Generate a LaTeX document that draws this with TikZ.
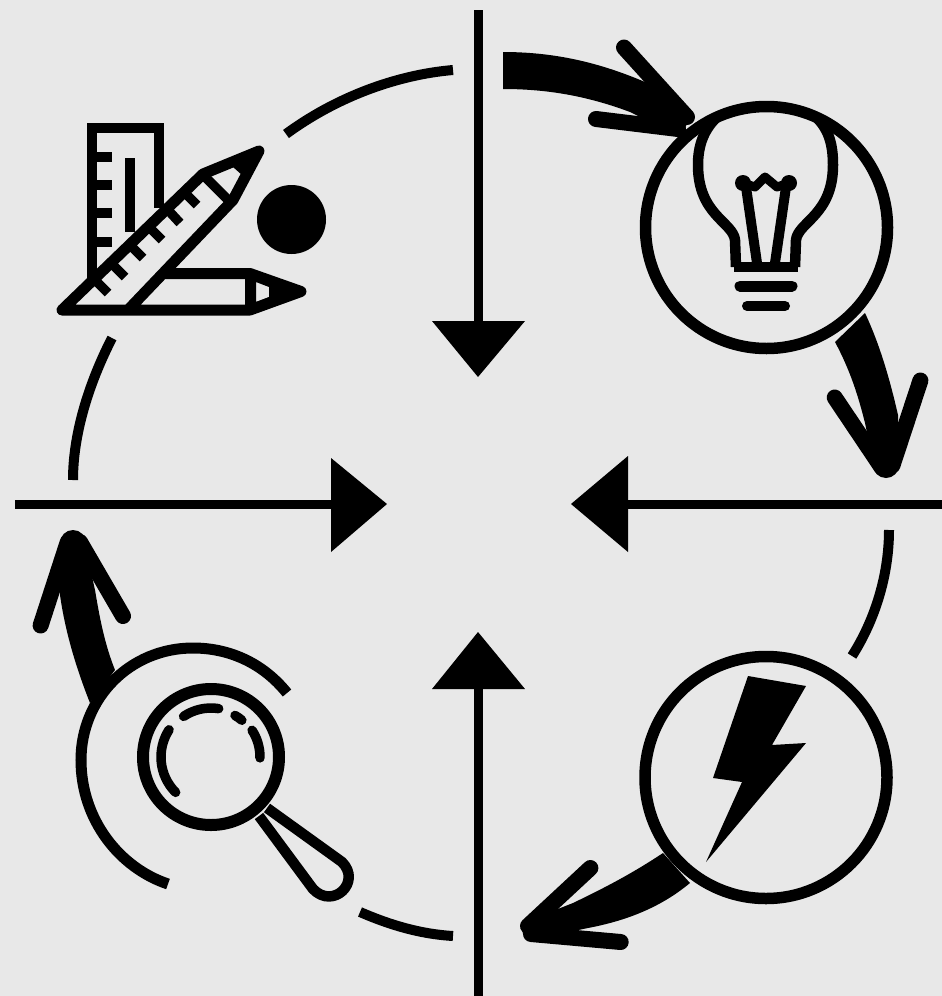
\documentclass[tikz,border=0pt]{standalone}
\definecolor{paper}{HTML}{E8E8E8}
\tikzset{
  axisline/.style={line width=9pt},
  headtri/.style={fill=black},
  ring/.style={line width=10pt},
  ink/.style={line width=11pt,line join=round},
  inkr/.style={line width=11pt,line join=round,line cap=round},
  barb/.style={line width=16pt,line cap=round},
  body/.style={fill=black},
  tick/.style={line width=9.5pt},
  glint/.style={line width=9.5pt,line cap=round},
  badge/.style={circle,draw=black,line width=11.5pt,minimum size=242pt,inner sep=0pt,outer sep=0pt}
}
\begin{document}
\begin{tikzpicture}[x=1pt,y=-1pt]
\useasboundingbox (0,0) rectangle (942,996);
\fill[paper] (0,0) rectangle (942,996);
% axis arrows
\coordinate (tops) at (478,10); \coordinate (tope) at (478,330);
\coordinate (lefts) at (15,504); \coordinate (lefte) at (340,504);
\coordinate (rights) at (942,504); \coordinate (righte) at (620,504);
\coordinate (bots) at (478,996); \coordinate (bote) at (478,680);
\draw[axisline] (tops) -- (tope);
\draw[axisline] (lefts) -- (lefte);
\draw[axisline] (rights) -- (righte);
\draw[axisline] (bots) -- (bote);
\fill[headtri] (432,321) -- (525,321) -- (478,377) -- cycle;
\fill[headtri] (331,458) -- (331,552) -- (387,504) -- cycle;
\fill[headtri] (628,456) -- (628,552) -- (571,504) -- cycle;
\fill[headtri] (432,689) -- (525,689) -- (478,632) -- cycle;
% outer ring pieces
\draw[ring] (453,70) .. controls (395,75) and (335,98) .. (286,134);
\draw[ring] (112,338) .. controls (88,385) and (73,435) .. (73,480);
\draw[ring] (889,530) .. controls (889,575) and (875,620) .. (852,656);
\draw[ring] (453,936) .. controls (420,934) and (390,925) .. (360,912);
% thick arrows
\fill[body] (503,52) .. controls (560,52) and (605,65) .. (645,82) -- (693,113) -- (680,137) -- (630,112) .. controls (590,97) and (550,89) .. (503,89) -- cycle;
\draw[barb] (624,47.5) -- (687,117);
\draw[barb] (596,119) -- (678,129);
\fill[body] (835,342) .. controls (850,370) and (858,395) .. (865,423) -- (875,470) -- (898,468) -- (898,415) .. controls (890,380) and (880,345) .. (865,313) -- cycle;
\draw[barb] (834.7,397.5) -- (881.7,467.5);
\draw[barb] (920.4,380.5) -- (892.4,465.5);
\fill (886,465) circle (13);
\fill[body] (663,853) .. controls (630,875) and (600,890) .. (573,903) -- (530,920) -- (530,940) -- (588,928) .. controls (625,921) and (660,908) .. (690,883) -- cycle;
\draw[barb] (590.4,868) -- (528,926);
\draw[barb] (620.7,942) -- (531,934);
\fill (535,929) circle (13);
\fill[body] (90,703) .. controls (75,665) and (65,630) .. (60,595) -- (62,545) -- (85,545) -- (95,590) .. controls (100,620) and (105,645) .. (115,670) -- cycle;
\draw[barb] (40.6,625.5) -- (67.6,542.5);
\draw[barb] (123,616) -- (80,542);
\fill (73,543) circle (13);
% bulb badge
\node[badge] (bulb) at (766.5,227.5) {};
\draw[ink,line width=10.5pt] (736,267) -- (735,240) .. controls (733,222) and (698,215) .. (698,165) .. controls (698,145) and (704,130) .. (716,118);
\draw[ink,line width=10.5pt] (795,267) -- (796,240) .. controls (798,222) and (833,215) .. (833,165) .. controls (833,145) and (829,130) .. (817,118);
\draw[line width=10.5pt] (734,267) -- (798,267);
\draw[inkr] (740,286) -- (792,286);
\draw[inkr,line width=10pt] (747,306) -- (785,306);
\fill (743,183) circle (8);
\fill (789,183) circle (8);
\draw[line width=9pt,line join=round] (743,183) -- (755,187) -- (765,177) -- (777,187) -- (789,183);
\draw[line width=10pt] (746,187) -- (757,263);
\draw[line width=10pt] (786,187) -- (775,263);
% lightning badge
\node[badge] (bolt) at (766,777.5) {};
\fill (748,676) -- (806,686) -- (772,745) -- (806,743) -- (706,862) -- (742,782) -- (713,778) -- cycle;
% magnifier
\draw[line width=11pt] (287,693) .. controls (262,662) and (228,648) .. (193,648) .. controls (130,648) and (81,698) .. (81,760) .. controls (81,820) and (120,868) .. (168,884);
\node[circle,draw=black,line width=12pt,minimum size=136pt,inner sep=0pt,outer sep=0pt] (lens) at (211,757) {};
\draw[glint] (211,757) ++(213:50) arc[start angle=213,end angle=135,radius=50];
\draw[glint] (211,757) ++(236:49) arc[start angle=236,end angle=279,radius=49];
\draw[glint] (211,757) ++(300:48) arc[start angle=300,end angle=310,radius=48];
\draw[glint] (211,757) ++(327:49) arc[start angle=327,end angle=361,radius=49];
\draw[line width=10.5pt,line join=round] (259,816) -- (313,889) .. controls (333,910) and (362,882) .. (342,862) -- (267,808);
% drafting tools
\draw[line width=10.5pt,line join=miter] (92,285) -- (92,128) -- (159,128) -- (159,208);
\foreach \yy in {157,185,213,242} \draw[tick] (92,\yy) -- (112,\yy);
\draw[line width=10pt] (130,158) -- (130,232);
\fill[paper] (170,273) -- (250,273) -- (250,310) -- (125,310) -- cycle;
\draw[ink] (165,273.5) -- (250,273.5) -- (301,291.5) -- (250,310) -- (62,310) -- (203,174) -- (259,151) -- (233,200) -- (128,310);
\fill[even odd rule] (200,172) -- (262,150) -- (235,200) -- cycle (210,175) -- (233,167) -- (242,175) -- (230,195) -- cycle;
\fill[even odd rule] (250,273) -- (305,291) -- (250,312) -- cycle (256,282) -- (269,287) -- (269,297) -- (256,302) -- cycle;
\draw[tick] (203,175) -- (228,200);
\draw[tick] (250,273) -- (250,312);
\draw[tick] (185,193) -- (197,205);
\draw[tick] (168,210) -- (180,223);
\draw[tick] (150,228) -- (162,240);
\draw[tick] (132,247) -- (143,258);
\draw[tick] (113,265) -- (125,277);
\draw[tick] (97,282) -- (108,293);
\fill (291.5,219.5) circle (34.5);
\end{tikzpicture}
\end{document}
